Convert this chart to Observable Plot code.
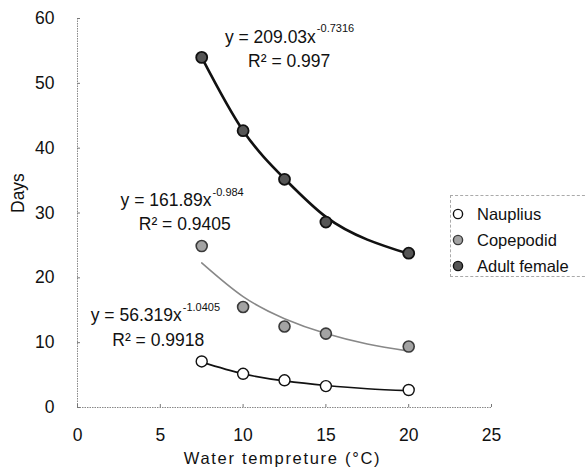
<!DOCTYPE html>
<html>
<head>
<meta charset="utf-8">
<script src="https://cdn.jsdelivr.net/npm/d3@7"></script>
<script src="https://cdn.jsdelivr.net/npm/@observablehq/plot@0.6"></script>
<style>
  html, body { margin: 0; padding: 0; background: #fff; overflow: hidden; }
  #wrap { position: relative; width: 585px; height: 473px; overflow: hidden; font-family: "Liberation Sans", Arial, sans-serif; }
  #legend { position: absolute; left: 450px; top: 195px; width: 140px; height: 82px; border: 1px dashed #aaa; box-sizing: border-box; padding-top: 5px; }
  .row { display: flex; align-items: center; height: 26px; font-size: 16.5px; color: #111; }
  .row svg { margin-left: 1px; margin-right: 13px; }
</style>
</head>
<body>
<div id="wrap"></div>
<script>
// ---- data ----
const temps = [7.5, 10, 12.5, 15, 20];
const nauplius = [7.1, 5.2, 4.2, 3.3, 2.7];
const copepodid = [24.9, 15.5, 12.5, 11.4, 9.4];
const adultFemale = [54.0, 42.7, 35.2, 28.6, 23.8];

// fitted trend lines, as drawn in the picture
const fitTemps = [7.5, 10, 12.5, 15, 17.5, 20];
const naupliusFit = [7.0, 5.2, 4.1, 3.4, 2.9, 2.6];
const copepodidFit = [22.3, 17.1, 13.7, 11.4, 9.8, 8.7];
const adultFemaleFit = [54.0, 42.7, 35.3, 29.4, 25.9, 23.7];

const seriesNames = ["Nauplius", "Copepodid", "Adult female"];
const eqMain = ["y = 209.03x", "y = 161.89x", "y = 56.319x"];
const eqExp = ["-0.7316", "-0.984", "-1.0405"];
const r2Text = ["R\u00b2 = 0.997", "R\u00b2 = 0.9405", "R\u00b2 = 0.9918"];
const eqAnchorX = [8.9, 2.6, 0.8];
const eqAnchorY = [57.1, 31.9, 14.2];
const r2AnchorX = [10.3, 3.7, 2.1];
const r2AnchorY = [53.4, 28.2, 10.3];

const xTicks = [0, 5, 10, 15, 20, 25];
const yTicks = [0, 10, 20, 30, 40, 50, 60];
const xTitle = "Water tempreture (\u00b0C)";
const yTitle = "Days";

// ---- tables ----
const pts = (vals) => temps.map((t, i) => ({t, v: vals[i]}));
const fit = (vals) => fitTemps.map((t, i) => ({t, v: vals[i]}));
const eqs = eqMain.map((s, i) => ({s, x: eqAnchorX[i], y: eqAnchorY[i]}));
const r2s = r2Text.map((s, i) => ({s, x: r2AnchorX[i], y: r2AnchorY[i]}));

const styles = {
  naup: {fill: "#fff", stroke: "#111"},
  cope: {fill: "#a3a3a3", stroke: "#3a3a3a"},
  adult: {fill: "#555", stroke: "#111"}
};

const chart = Plot.plot({
  width: 585, height: 473,
  marginLeft: 77, marginRight: 94, marginTop: 18, marginBottom: 66,
  style: {fontFamily: "'Liberation Sans', Arial, sans-serif", fontSize: "17px", color: "#111", background: "#fff"},
  x: {domain: [0, 25]},
  y: {domain: [0, 60]},
  marks: [
    Plot.ruleX([0], {stroke: "#888", strokeDasharray: "1.5,1"}),
    Plot.ruleY([0], {stroke: "#888", strokeDasharray: "1.5,1"}),
    Plot.axisX({ticks: xTicks, tickSize: -3, tickPadding: 24, stroke: "#777", label: null, fontSize: 17.5}),
    Plot.axisY({ticks: yTicks, tickSize: -3, tickPadding: 26, stroke: "#777", label: null, fontSize: 17.5}),
    Plot.text([xTitle], {frameAnchor: "bottom", dy: 56, dx: -2, fontSize: 16.5, fill: "#111"}),
    Plot.text([yTitle], {frameAnchor: "left", rotate: -90, dx: -59, fontSize: 17.5, fill: "#111"}),
    // fit lines
    Plot.line(fit(naupliusFit), {x: "t", y: "v", curve: "natural", stroke: "#111", strokeWidth: 1.6}),
    Plot.line(fit(copepodidFit), {x: "t", y: "v", curve: "natural", stroke: "#888", strokeWidth: 1.6}),
    Plot.line(fit(adultFemaleFit), {x: "t", y: "v", curve: "natural", stroke: "#111", strokeWidth: 2.6}),
    // points
    Plot.dot(pts(nauplius), {x: "t", y: "v", r: 5.5, strokeWidth: 1.4, ...styles.naup}),
    Plot.dot(pts(copepodid), {x: "t", y: "v", r: 5.5, strokeWidth: 1.6, ...styles.cope}),
    Plot.dot(pts(adultFemale), {x: "t", y: "v", r: 5.5, strokeWidth: 1.8, ...styles.adult}),
    // equations
    Plot.text(eqs, {x: "x", y: "y", text: "s", textAnchor: "start", fontSize: 17.5, fill: "#111"}),
    Plot.text(r2s, {x: "x", y: "y", text: "s", textAnchor: "start", fontSize: 17.5, fill: "#111"})
  ]
});

// superscript exponents on the equations; spacing on the x title
d3.select(chart).selectAll("text").each(function() {
  const t = this.textContent;
  const idx = eqMain.indexOf(t);
  if (idx >= 0) {
    d3.select(this).append("tspan")
      .attr("dx", 1)
      .attr("dy", -10.5)
      .attr("font-size", 11)
      .text(eqExp[idx]);
  }
  if (t === xTitle) {
    this.setAttribute("letter-spacing", "1.7");
  }
});

const wrap = document.getElementById("wrap");
wrap.appendChild(chart);

// legend
const legend = document.createElement("div");
legend.id = "legend";
const legendStyles = [styles.naup, styles.cope, styles.adult];
seriesNames.forEach((name, i) => {
  const row = document.createElement("div");
  row.className = "row";
  row.innerHTML = `<svg width="12" height="12"><circle cx="6" cy="6" r="4.6" fill="${legendStyles[i].fill}" stroke="${legendStyles[i].stroke}" stroke-width="1.4"/></svg><span>${name}</span>`;
  legend.appendChild(row);
});
wrap.appendChild(legend);
</script>
</body>
</html>
